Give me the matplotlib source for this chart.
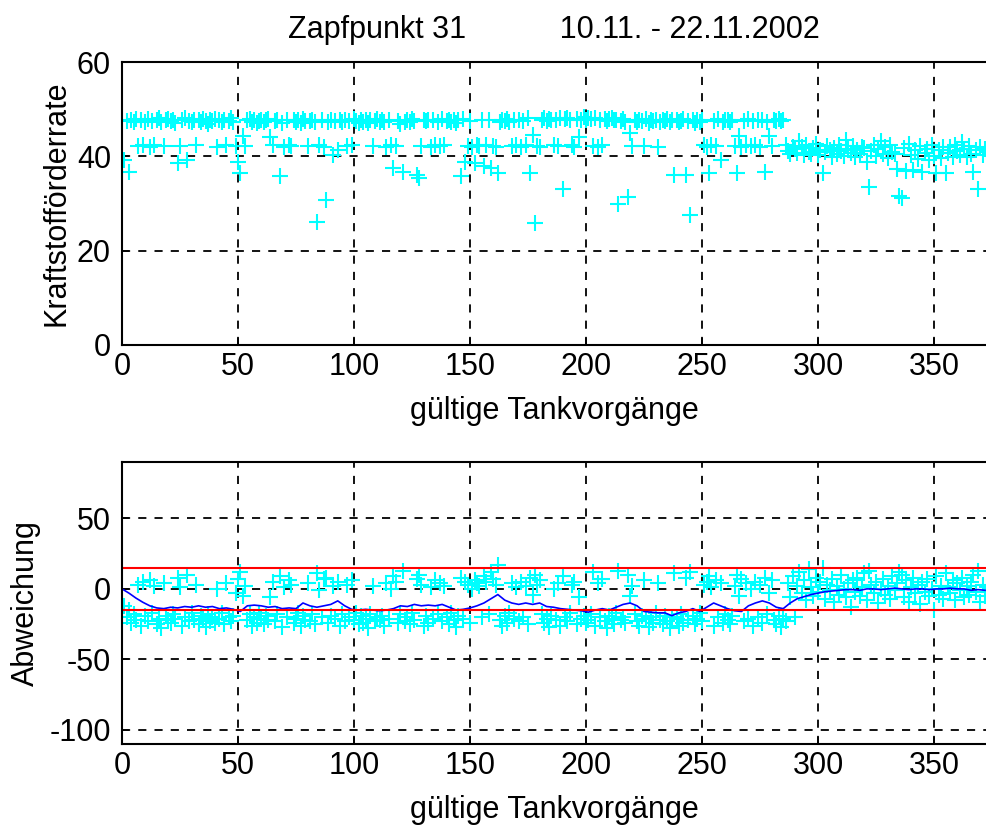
import numpy as np
import matplotlib
matplotlib.use('Agg')
import matplotlib.pyplot as plt
from matplotlib import font_manager

# Kraftstoffförderrate je gültigem Tankvorgang
rate = [
    39.2, 47.5, 36.7, 47.8, 47.3, 48.0, 42.1, 47.6, 42.3, 47.2,
    47.9, 42.0, 47.4, 42.4, 47.7, 48.1, 47.3, 42.2, 47.6, 47.9,
    47.4, 47.8, 47.1, 38.6, 42.1, 47.6, 48.2, 39.2, 47.5, 47.3,
    47.8, 42.3, 47.6, 47.2, 48.0, 47.5, 46.9, 47.7, 47.4, 47.9,
    42.0, 47.6, 47.3, 47.8, 42.4, 47.5, 48.1, 47.2, 42.2, 38.8,
    36.5, 44.3, 42.1, 47.6, 47.9, 47.3, 47.7, 47.0, 47.5, 47.8,
    47.2, 47.6, 47.9, 44.0, 42.3, 47.4, 47.7, 35.8, 47.1, 42.0,
    47.6, 42.4, 42.1, 47.8, 47.3, 47.6, 47.0, 47.9, 47.4, 42.2,
    47.5, 47.8, 47.2, 26.1, 42.3, 47.6, 42.0, 30.7, 47.3, 47.7,
    40.3, 47.5, 41.4, 47.8, 47.2, 47.6, 42.1, 47.4, 42.3, 47.9,
    47.5, 47.1, 47.7, 47.3, 47.8, 47.0, 47.6, 42.2, 47.4, 47.9,
    47.2, 47.6, 47.3, 42.0, 47.8, 42.4, 37.5, 42.1, 47.5, 46.9,
    36.7, 47.2, 47.6, 47.3, 47.9, 47.5, 36.0, 35.4, 42.2, 47.7,
    47.4, 47.8, 42.0, 47.6, 42.3, 47.2, 42.1, 47.9, 42.4, 47.5,
    47.8, 47.3, 47.7, 47.1, 47.6, 35.8, 47.9, 38.9, 42.2, 47.4,
    42.0, 38.5, 42.3, 42.1, 47.6, 38.0, 42.4, 47.8, 37.5, 42.2,
    42.0, 36.5, 47.3, 47.7, 47.5, 47.9, 47.2, 42.1, 47.6, 42.3,
    47.8, 42.0, 47.4, 42.4, 48.1, 36.5, 44.6, 25.9, 42.2, 42.0,
    47.7, 48.2, 47.5, 48.0, 47.8, 42.3, 47.6, 42.1, 48.1, 33.0,
    47.9, 48.2, 47.7, 42.4, 42.0, 48.0, 44.2, 47.8, 48.3, 47.6,
    48.1, 47.9, 42.2, 48.2, 42.0, 47.7, 42.3, 48.0, 47.5, 47.9,
    48.1, 47.6, 47.8, 30.0, 47.4, 47.9, 47.2, 31.4, 45.0, 42.1,
    47.6, 47.3, 47.8, 47.5, 42.2, 47.9, 47.1, 47.6, 47.4, 47.8,
    42.0, 47.2, 47.7, 47.5, 47.9, 47.3, 47.6, 36.0, 47.8, 47.2,
    47.5, 47.9, 36.0, 47.4, 27.5, 47.6, 47.1, 47.8, 47.3, 47.7,
    42.3, 42.0, 36.4, 42.4, 47.5, 42.1, 47.9, 39.2, 47.2, 47.6,
    47.8, 47.3, 47.7, 42.2, 36.4, 44.4, 42.0, 47.5, 42.3, 47.9,
    42.1, 47.4, 42.4, 47.6, 42.0, 47.8, 36.7, 47.3, 44.4, 42.2,
    47.7, 47.5, 48.0, 47.4, 47.8, 42.3, 41.2, 40.5, 42.0, 41.5,
    40.8, 43.3, 41.9, 40.3, 42.4, 41.0, 40.6, 41.8, 42.6, 40.2,
    41.4, 36.4, 40.9, 42.1, 41.3, 39.8, 41.7, 40.4, 42.5, 41.1,
    40.0, 43.5, 41.6, 40.7, 42.2, 39.9, 41.3, 40.5, 42.0, 41.8,
    38.9, 33.4, 41.2, 42.4, 40.1, 41.5, 43.2, 40.6, 41.9, 39.7,
    42.3, 41.0, 40.4, 37.3, 31.5, 31.1, 41.7, 36.8, 42.6, 40.2,
    37.0, 41.4, 39.5, 42.1, 36.6, 40.8, 41.6, 39.2, 42.4, 40.0,
    36.4, 41.3, 39.6, 42.0, 36.5, 40.7, 41.9, 39.9, 42.5, 41.1,
    40.3, 43.0, 41.5, 39.8, 42.2, 40.6, 36.7, 41.4, 33.0, 42.0,
    40.2, 41.6, 40.9,
]

# Abweichung je Tankvorgang
abw = [
    -12, -20, -15, -24, -18, -22, 3, -26, 5, -19,
    -23, 6, -17, 2, -25, -21, -28, 4, -19, -22,
    -24, -18, -21, 8, 1, -26, -20, 10, -23, -17,
    -22, 3, -25, -19, -21, -27, -18, -23, -20, -24,
    0, -21, -17, -25, 4, -20, -23, -19, -3, 7,
    12, -5, 2, -22, -18, -26, -20, -24, -17, -21,
    -25, -19, -22, -6, 5, -23, -18, 9, -27, 1,
    -20, 6, 3, -24, -21, -17, -26, -19, -22, 4,
    -23, -18, -25, 11, -1, -20, 7, 8, -24, -19,
    2, -21, 5, -26, -18, -23, 3, -20, 6, -22,
    -17, -25, -19, -24, -21, -28, -18, 2, -23, -20,
    -22, -19, -26, 4, -21, 0, 9, 5, -24, -18,
    13, -23, -20, -25, -17, -22, 7, 10, 3, -26,
    -19, -24, 1, -21, 6, -18, 4, -23, 2, -20,
    -25, -17, -22, -27, -19, 8, -21, 5, 3, -24,
    0, 6, 4, 2, -20, 9, 5, -18, 12, 7,
    3, 17, -22, -26, -19, -24, -17, 4, -21, 1,
    -23, 5, -20, 2, -25, 8, -4, 10, 3, 6,
    -18, -24, -21, -27, -19, 0, -22, 4, -26, 9,
    -20, -23, -17, 3, 5, -25, -6, -21, -19, -24,
    -22, -18, 12, -26, 4, -20, 7, -23, -28, -19,
    -21, -25, -17, 13, -22, -20, -24, 10, -5, 2,
    -18, -23, -26, -19, 6, -21, -27, -20, -24, -17,
    4, -22, -25, -19, -23, -28, -20, 11, -21, -26,
    -18, -24, 8, -22, 12, -19, -25, -21, -17, -23,
    3, 5, 9, 1, -26, 6, -20, 4, -24, -18,
    -22, -25, -19, 2, 10, -5, 7, -23, 4, -21,
    0, -26, 5, -20, 3, -24, 8, -18, -3, 6,
    -22, -25, -19, -27, -21, -23, 4, -6, 9, -20,
    2, 12, -3, 6, -8, 14, 1, -5, 8, -2,
    5, 15, -7, 3, -1, 7, -9, 2, -4, 10,
    0, -6, 4, -13, 6, -2, 8, -5, 1, 11,
    -8, 13, 3, -3, 5, -10, 0, 7, -4, 2,
    -7, 9, -1, 4, 12, 10, -6, 6, -9, 1,
    8, -3, 3, -11, 5, -2, 7, -5, 0, -15,
    9, -4, 2, -7, 11, 1, -3, 6, -8, 4,
    -1, 8, -6, 2, -4, 5, 10, -2, 13, -9,
    3, -5, 1,
]

trend_x = list(range(0, 373, 3))
trend_y = [
    0, -3, -6.5, -9.5, -12, -13.5, -14, -13, -13.5, -12.5,
    -13, -12, -13, -12.5, -14, -13.5, -14.5, -16, -12, -11.5,
    -12, -13, -12.5, -14, -13.5, -14, -10, -12, -13, -12,
    -11, -8.5, -12, -14.5, -15, -14.5, -15, -15.5, -15, -14,
    -12, -12.5, -11, -12, -11.5, -12, -11, -13, -15, -14.5,
    -13.5, -12, -10, -7, -4, -8, -10, -11, -10, -11,
    -10, -12.5, -13, -14, -14.5, -15, -15.5, -16.5, -15, -14,
    -15, -13, -11, -10, -12, -16, -16.5, -17, -17, -19,
    -17, -16, -14, -16, -13, -10, -12, -14, -15.5, -16,
    -12, -10, -8.5, -10, -13, -14, -10, -7, -5.5, -4,
    -3, -2, -1.5, -1, -0.5, -0.5, -1, 0, 0, -0.5,
    0, 0.5, 0, -0.5, 0, 0, -0.5, 0, 0, 0.5,
    0, 0, -1, -0.5, -1,
]

grenze = 15  # Toleranzband +/-

x = np.arange(1, len(rate) + 1)

# schmale Schrift wie im Original, falls vorhanden
names = {f.name for f in font_manager.fontManager.ttflist}
if 'Liberation Sans Narrow' in names:
    plt.rcParams['font.family'] = ['Liberation Sans Narrow', 'DejaVu Sans']
    fs = 25
else:
    plt.rcParams['font.family'] = ['Liberation Sans', 'DejaVu Sans']
    fs = 22
plt.rcParams['axes.unicode_minus'] = False

fig = plt.figure(figsize=(9.86, 8.25), dpi=100)
W, H = 986, 825
x_max = 372.4


def style(ax):
    ax.set_xlim(0, x_max)
    ax.set_xticks(np.arange(0, 351, 50))
    ax.grid(True, color='k', linestyle=(0, (4.5, 4.5)), linewidth=1.3)
    ax.set_axisbelow(True)
    ax.tick_params(direction='in', length=5, width=1.2, labelsize=fs)
    ax.tick_params(axis='x', pad=5)
    ax.tick_params(axis='y', pad=8)
    ax.spines['right'].set_visible(False)
    for s in ('left', 'top', 'bottom'):
        ax.spines[s].set_linewidth(1.5)


# oben
ax1 = fig.add_axes([122 / W, 1 - 345 / H, (W - 122) / W, 283 / H])
ax1.plot(x, rate, '+', color='#00FFFF', markersize=12, markeredgewidth=1.5)
ax1.set_ylim(0, 60)
ax1.set_yticks([0, 20, 40, 60])
style(ax1)
ax1.set_xlabel('gültige Tankvorgänge', fontsize=fs)
ax1.xaxis.set_label_coords(0.5, -0.18)
ax1.set_ylabel('Kraftstofförderrate', fontsize=fs)
ax1.yaxis.set_label_coords(-0.058, 0.5)
ax1.set_title('Zapfpunkt 31           10.11. - 22.11.2002', fontsize=fs,
              y=1.085, pad=0)

# unten
ax2 = fig.add_axes([122 / W, 1 - 744 / H, (W - 122) / W, 282 / H])
ax2.plot(x, abw, '+', color='#00FFFF', markersize=12, markeredgewidth=1.5)
ax2.plot(trend_x, trend_y, color='#0000FF', linewidth=1.2)
ax2.axhline(grenze, color='#FF0000', linewidth=1.5)
ax2.axhline(-grenze, color='#FF0000', linewidth=1.5)
ax2.set_ylim(-110, 90)
ax2.set_yticks([-100, -50, 0, 50])
style(ax2)
ax2.set_xlabel('gültige Tankvorgänge', fontsize=fs)
ax2.xaxis.set_label_coords(0.5, -0.18)
ax2.set_ylabel('Abweichung', fontsize=fs)
ax2.yaxis.set_label_coords(-0.094, 0.5)

fig.savefig('out.png', dpi=100)
